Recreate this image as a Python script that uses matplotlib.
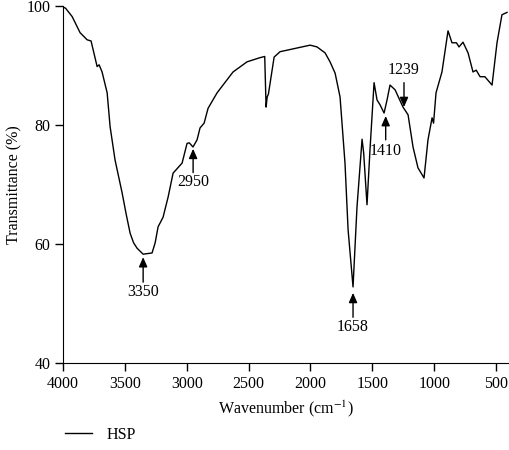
import matplotlib
matplotlib.use("Agg")
import matplotlib.pyplot as plt
from matplotlib.lines import Line2D

# FTIR spectrum of HSP
wavenumber = [4000, 3980, 3927, 3863, 3806, 3774, 3757, 3725, 3709, 3685, 3644,
              3620, 3580, 3523, 3490, 3458, 3430, 3402, 3353, 3281, 3256, 3232,
              3192, 3151, 3111, 3038, 2998, 2980, 2950, 2917, 2893, 2860, 2828,
              2755, 2626, 2513, 2408, 2370, 2359, 2350, 2340, 2294, 2246, 2003,
              1947, 1882, 1842, 1801, 1761, 1721, 1696, 1656, 1624, 1583, 1570,
              1543, 1519, 1486, 1462, 1438, 1405, 1381, 1357, 1316, 1252, 1211,
              1171, 1131, 1082, 1050, 1017, 1005, 985, 937, 888, 856, 820, 799,
              767, 726, 686, 660, 629, 590, 532, 492, 452, 411]
transmittance = [99.8, 99.6, 98.2, 95.5, 94.3, 94.1, 92.6, 89.8, 90.1, 88.9, 85.4,
                 79.7, 74.1, 68.6, 65.0, 61.8, 60.2, 59.3, 58.3, 58.5, 60.2, 62.9,
                 64.5, 67.9, 71.9, 73.6, 76.9, 77.0, 76.3, 77.5, 79.5, 80.3, 82.8,
                 85.4, 88.9, 90.6, 91.3, 91.5, 83.0, 84.7, 85.2, 91.4, 92.3, 93.4,
                 93.1, 92.1, 90.6, 88.7, 84.7, 73.6, 62.4, 52.8, 66.2, 77.6, 75.3,
                 66.6, 75.8, 87.1, 84.2, 83.4, 82.0, 84.2, 86.7, 85.9, 83.0, 81.7,
                 76.3, 72.8, 71.1, 77.5, 81.2, 80.3, 85.4, 88.9, 95.8, 93.8, 93.8,
                 93.1, 93.9, 92.1, 88.9, 89.2, 88.1, 88.1, 86.7, 93.8, 98.5, 98.9]

# peak labels: (x, tip y, tail y, text y)
peak_labels = ["3350", "2950", "1658", "1410", "1239"]
peak_x = [3353, 2949, 1656, 1392, 1244]
peak_tip = [57.8, 76.0, 51.8, 81.5, 83.0]
peak_tail = [53.6, 72.0, 47.7, 77.5, 87.1]
peak_text = [51.9, 70.4, 46.1, 75.6, 89.2]

plt.rcParams['font.family'] = ['Liberation Serif', 'DejaVu Serif']
plt.rcParams['font.size'] = 11.5
plt.rcParams['mathtext.fontset'] = 'stix'

fig = plt.figure(figsize=(5.09, 4.5), dpi=100)
ax = fig.add_axes([0.124, 0.193, 0.876, 0.794])

ax.plot(wavenumber, transmittance, color='black', lw=1.0)

for lab, x, tip, tail, ty in zip(peak_labels, peak_x, peak_tip, peak_tail, peak_text):
    ax.annotate('', xy=(x, tip), xytext=(x, tail),
                arrowprops=dict(arrowstyle='-|>,head_width=0.22,head_length=0.5',
                                color='black', lw=1.0, shrinkA=0, shrinkB=0))
    ax.text(x, ty, lab, ha='center', va='center')

ax.set_xlim(4000, 395)
ax.set_ylim(40, 100)
ax.set_xticks([4000, 3500, 3000, 2500, 2000, 1500, 1000, 500])
ax.set_yticks([40, 60, 80, 100])
ax.spines['top'].set_visible(False)
ax.spines['right'].set_visible(False)
ax.tick_params(direction='out', length=6, width=1, pad=3)
ax.set_xlabel('Wavenumber (cm$^{-1}$)', labelpad=5)
ax.set_ylabel('Transmittance (%)', labelpad=3)

handle = Line2D([], [], color='black', lw=1.0)
fig.legend([handle], ['HSP'], loc='lower left', bbox_to_anchor=(0.1, -0.016),
           frameon=False, handlelength=1.7, handletextpad=0.9)

fig.savefig('out.png', dpi=100)
